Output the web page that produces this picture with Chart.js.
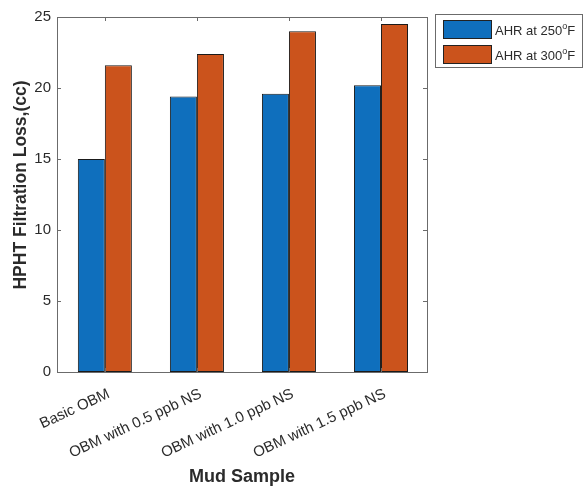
<!DOCTYPE html>
<html>
<head>
<meta charset="utf-8">
<script src="https://cdn.jsdelivr.net/npm/chart.js@4/dist/chart.umd.min.js"></script>
<style>
  html, body { margin: 0; padding: 0; background: #fff; }
  #wrap { width: 584px; height: 491px; }
</style>
</head>
<body>
<div id="wrap"><canvas id="c" width="584" height="491"></canvas></div>
<script>
// Mud samples and HPHT filtration loss (cc) at two temperatures
const categories = ['Basic OBM', 'OBM with 0.5 ppb NS', 'OBM with 1.0 ppb NS', 'OBM with 1.5 ppb NS'];
const ahr250 = [15.0, 19.4, 19.6, 20.2];
const ahr300 = [21.6, 22.4, 24.0, 24.5];
const seriesNames = [['AHR at 250', 'F'], ['AHR at 300', 'F']];
const yTicks = [0, 5, 10, 15, 20, 25];
const yTitle = 'HPHT Filtration Loss,(cc)';

// sample positions on the x axis (1..n)
const positions = categories.map((c, i) => i + 1);
const toPoints = vals => vals.map((v, i) => ({ x: positions[i], y: v }));

const FONT = '"Liberation Sans", Arial, Helvetica, sans-serif';
const AXIS_COLOR = '#6b6b6b';
const TEXT_COLOR = '#2b2b2b';

// Axes box with inward tick marks on all four sides
const framePlugin = {
  id: 'frame',
  afterDatasetsDraw(chart) {
    const { ctx, chartArea: a, scales } = chart;
    const len = 4;
    ctx.save();
    ctx.strokeStyle = AXIS_COLOR;
    ctx.lineWidth = 1;
    ctx.strokeRect(Math.round(a.left) + 0.5, Math.round(a.top) + 0.5,
                   Math.round(a.right - a.left), Math.round(a.bottom - a.top));
    ctx.beginPath();
    yTicks.forEach(v => {
      const y = Math.round(scales.y.getPixelForValue(v)) + 0.5;
      ctx.moveTo(a.left, y); ctx.lineTo(a.left + len, y);
      ctx.moveTo(a.right, y); ctx.lineTo(a.right - len, y);
    });
    positions.forEach(p => {
      const x = Math.round(scales.x.getPixelForValue(p)) + 0.5;
      ctx.moveTo(x, a.bottom); ctx.lineTo(x, a.bottom - len);
      ctx.moveTo(x, a.top); ctx.lineTo(x, a.top + len);
    });
    ctx.stroke();

    // vertical axis title, rotated, left of the tick labels
    ctx.translate(21, 185);
    ctx.rotate(-Math.PI / 2);
    ctx.font = 'bold 17.5px ' + FONT;
    ctx.fillStyle = TEXT_COLOR;
    ctx.textAlign = 'center';
    ctx.textBaseline = 'middle';
    ctx.fillText(yTitle, 0, 0);
    ctx.restore();
  }
};

// Boxed legend on the right with a superscript degree "o"
const legendPlugin = {
  id: 'boxLegend',
  afterDraw(chart) {
    const { ctx } = chart;
    const bx = 435, by = 14, bw = 147, bh = 53;
    ctx.save();
    ctx.fillStyle = '#fff';
    ctx.fillRect(bx, by, bw, bh);
    ctx.strokeStyle = AXIS_COLOR;
    ctx.lineWidth = 1;
    ctx.strokeRect(bx + 0.5, by + 0.5, bw, bh);
    chart.data.datasets.forEach((ds, i) => {
      const rowY = by + 6 + i * 25;
      ctx.fillStyle = ds.backgroundColor;
      ctx.fillRect(443, rowY, 49, 19);
      ctx.strokeStyle = '#222';
      ctx.strokeRect(443.5, rowY + 0.5, 48, 18);
      const [main, unit] = seriesNames[i];
      const ty = rowY + 15;
      ctx.fillStyle = TEXT_COLOR;
      ctx.textBaseline = 'alphabetic';
      ctx.font = '13px ' + FONT;
      let x = 495;
      ctx.fillText(main, x, ty);
      x += ctx.measureText(main).width;
      ctx.font = '9px ' + FONT;
      ctx.fillText('o', x, ty - 6);
      x += ctx.measureText('o').width;
      ctx.font = '13px ' + FONT;
      ctx.fillText(unit, x, ty);
    });
    ctx.restore();
  }
};

new Chart(document.getElementById('c'), {
  type: 'bar',
  data: {
    datasets: [
      { label: 'AHR at 250°F', data: toPoints(ahr250), backgroundColor: '#0f6fbd', borderColor: '#1a1a1a', borderWidth: 1, borderSkipped: false },
      { label: 'AHR at 300°F', data: toPoints(ahr300), backgroundColor: '#cb531c', borderColor: '#1a1a1a', borderWidth: 1, borderSkipped: false }
    ]
  },
  options: {
    responsive: false,
    animation: false,
    layout: { padding: { top: 17, right: 157, left: 0, bottom: 0 } },
    datasets: { bar: { categoryPercentage: 0.587, barPercentage: 1.0 } },
    plugins: { legend: { display: false }, tooltip: { enabled: false } },
    scales: {
      x: {
        type: 'linear',
        min: 0.48, max: 4.5,
        offset: false,
        grid: { display: false, drawTicks: false },
        border: { display: false },
        afterFit(s) { s.height = 119; },
        afterBuildTicks(s) { s.ticks = positions.map(v => ({ value: v })); },
        ticks: {
          color: TEXT_COLOR, font: { family: FONT, size: 15 },
          minRotation: 25, maxRotation: 25, padding: 13, labelOffset: 4, autoSkip: false,
          callback: v => categories[Math.round(v) - 1]
        },
        title: {
          display: true, text: 'Mud Sample', color: TEXT_COLOR,
          font: { family: FONT, size: 18, weight: 'bold' },
          padding: { top: 0, bottom: 3 }
        }
      },
      y: {
        min: 0, max: 25,
        grid: { display: false, drawTicks: false },
        border: { display: false },
        afterFit(s) { s.width = 57; },
        afterBuildTicks(s) { s.ticks = yTicks.map(v => ({ value: v })); },
        ticks: { color: TEXT_COLOR, font: { family: FONT, size: 15 }, padding: 6 }
      }
    }
  },
  plugins: [framePlugin, legendPlugin]
});
</script>
</body>
</html>
